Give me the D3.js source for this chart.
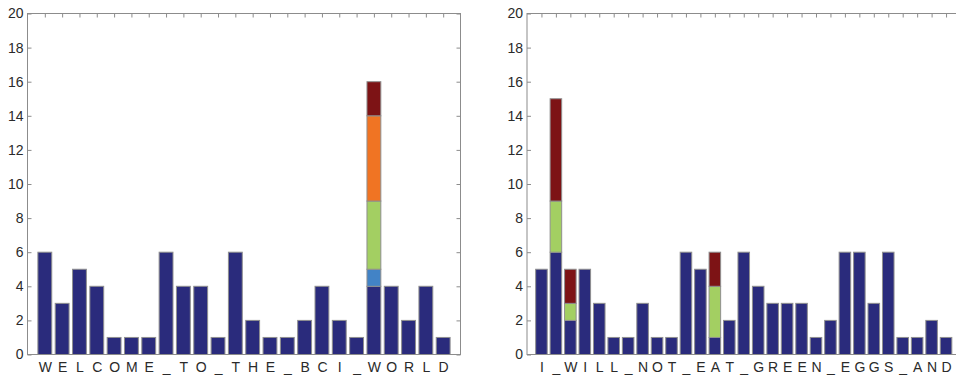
<!DOCTYPE html>
<html>
<head>
<meta charset="utf-8">
<script src="https://cdn.jsdelivr.net/npm/d3@7"></script>
<style>
  body { margin: 0; background: #fff; }
  svg { display: block; font-family: "Liberation Sans", Arial, sans-serif; }
  .axis path, .axis line { stroke: #8c8c8c; }
  .axis text { fill: #2a2a2a; font-size: 14px; }
</style>
</head>
<body>
<div id="chart"></div>
<script>
// left panel
const leftLetters = ['W','E','L','C','O','M','E','_','T','O','_','T','H','E','_','B','C','I','_','W','O','R','L','D'];
const leftBase   = [6,3,5,4,1,1,1,6,4,4,1,6,2,1,1,2,4,2,1,4,4,2,4,1];
const leftBlue   = [0,0,0,0,0,0,0,0,0,0,0,0,0,0,0,0,0,0,0,1,0,0,0,0];
const leftGreen  = [0,0,0,0,0,0,0,0,0,0,0,0,0,0,0,0,0,0,0,4,0,0,0,0];
const leftOrange = [0,0,0,0,0,0,0,0,0,0,0,0,0,0,0,0,0,0,0,5,0,0,0,0];
const leftRed    = [0,0,0,0,0,0,0,0,0,0,0,0,0,0,0,0,0,0,0,2,0,0,0,0];

// right panel
const rightLetters = ['I','_','W','I','L','L','_','N','O','T','_','E','A','T','_','G','R','E','E','N','_','E','G','G','S','_','A','N','D'];
const rightBase   = [5,6,2,5,3,1,1,3,1,1,6,5,1,2,6,4,3,3,3,1,2,6,6,3,6,1,1,2,1];
const rightBlue   = [0,0,0,0,0,0,0,0,0,0,0,0,0,0,0,0,0,0,0,0,0,0,0,0,0,0,0,0,0];
const rightGreen  = [0,3,1,0,0,0,0,0,0,0,0,0,3,0,0,0,0,0,0,0,0,0,0,0,0,0,0,0,0];
const rightOrange = [0,0,0,0,0,0,0,0,0,0,0,0,0,0,0,0,0,0,0,0,0,0,0,0,0,0,0,0,0];
const rightRed    = [0,6,2,0,0,0,0,0,0,0,0,0,2,0,0,0,0,0,0,0,0,0,0,0,0,0,0,0,0];

const yTicks = [0,2,4,6,8,10,12,14,16,18,20];
const seriesColors = ['#2a2b7c', '#4283c6', '#a3cf62', '#f07423', '#7d1315'];

const svgWidth = 956;
const svgHeight = 382;

const svg = d3.select('#chart')
  .append('svg')
  .attr('width', svgWidth)
  .attr('height', svgHeight);

const drawPanel = (left, right, letters, series) => {
  const top = 13.5;
  const bottom = 354.5;
  const n = letters.length;

  const x = d3.scaleLinear().domain([0, n + 1]).range([left, right]);
  const y = d3.scaleLinear().domain([0, 20]).range([bottom, top]);
  const step = x(1) - x(0);
  const barW = step * 0.8;

  const g = svg.append('g');

  // stack the series per category
  const rows = letters.map((l, i) => {
    const r = { i: i };
    series.forEach((s, k) => { r['s' + k] = s[i]; });
    return r;
  });
  const keys = series.map((s, k) => 's' + k);
  const stacked = d3.stack().keys(keys)(rows);

  stacked.forEach((layer, k) => {
    g.append('g')
      .selectAll('rect')
      .data(layer.filter(d => d[1] > d[0]))
      .join('rect')
        .attr('x', d => x(d.data.i + 1) - barW / 2)
        .attr('y', d => y(d[1]))
        .attr('width', barW)
        .attr('height', d => y(d[0]) - y(d[1]))
        .attr('fill', seriesColors[k])
        .attr('stroke', '#8f8f8f')
        .attr('stroke-width', 1);
  });

  const xTickVals = d3.range(1, n + 1);

  // bottom axis with letters
  g.append('g')
    .attr('class', 'axis')
    .attr('transform', `translate(0,${bottom})`)
    .call(d3.axisBottom(x).tickValues(xTickVals).tickSize(0).tickPadding(8)
      .tickFormat(d => letters[d - 1]))
    .call(a => a.select('.domain').remove());

  // top axis, inward ticks
  g.append('g')
    .attr('class', 'axis')
    .attr('transform', `translate(0,${top})`)
    .call(d3.axisTop(x).tickValues(xTickVals).tickSizeInner(-4).tickSizeOuter(0).tickFormat(''))
    .call(a => a.select('.domain').remove());

  // left axis
  g.append('g')
    .attr('class', 'axis')
    .attr('transform', `translate(${left},0)`)
    .call(d3.axisLeft(y).tickValues(yTicks).tickSizeInner(-4).tickSizeOuter(0))
    .call(a => a.select('.domain').remove())
    .call(a => a.selectAll('text').attr('x', -4));

  // right axis
  g.append('g')
    .attr('class', 'axis')
    .attr('transform', `translate(${right},0)`)
    .call(d3.axisRight(y).tickValues(yTicks).tickSizeInner(-4).tickSizeOuter(0).tickFormat(''))
    .call(a => a.select('.domain').remove());

  // frame
  g.append('rect')
    .attr('x', left)
    .attr('y', top)
    .attr('width', right - left)
    .attr('height', bottom - top)
    .attr('fill', 'none')
    .attr('stroke', '#8c8c8c')
    .attr('stroke-width', 1);
};

drawPanel(27.5, 460.5, leftLetters, [leftBase, leftBlue, leftGreen, leftOrange, leftRed]);
drawPanel(527, 960.5, rightLetters, [rightBase, rightBlue, rightGreen, rightOrange, rightRed]);
</script>
</body>
</html>
